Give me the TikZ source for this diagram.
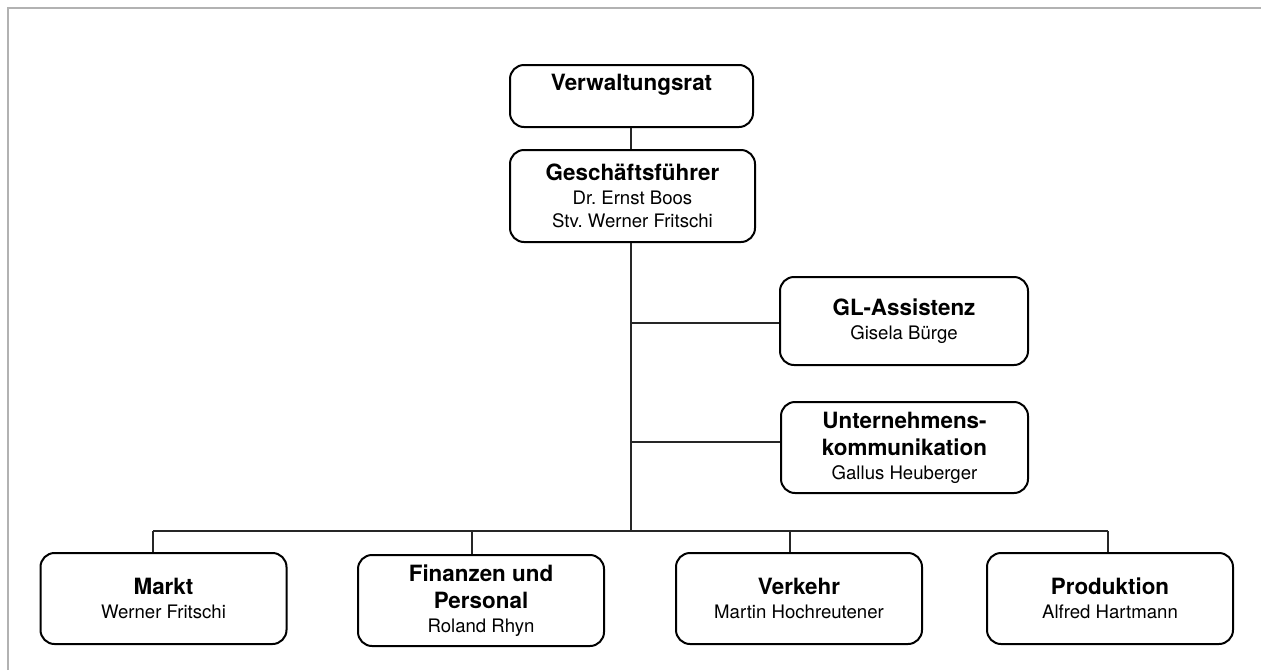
\documentclass[tikz,border=0pt]{standalone}
\usepackage{fontspec}
\setmainfont{TeX Gyre Heros}
\begin{document}
\frenchspacing
\newcommand\boxtitle[1]{{\fontsize{22.4}{23.5}\selectfont\bfseries #1}}
\begin{tikzpicture}[x=1pt,y=-1pt,
  box/.style={draw=black, line width=2pt, rounded corners=14pt,
    minimum width=246pt, minimum height=91pt, align=center, inner sep=0pt,
    font=\fontsize{18.6}{23.5}\selectfont},
  conn/.style={draw=black!85, line width=1.3pt},
  frame/.style={draw=black!30, line width=2.5pt}]
\useasboundingbox (0,0) rectangle (1261,670);
\draw[frame] (8.2,670) -- (8.2,8.2) -- (1261,8.2);

\node[box, minimum width=243pt, minimum height=62pt, text depth=28pt] (vr) at (631.5,96) {\boxtitle{Verwaltungsrat}};
\node[box, minimum width=245pt, minimum height=92pt] (gf) at (632.5,196) {\boxtitle{Geschäftsführer}\\Dr. Ernst Boos\\Stv. Werner Fritschi};
\node[box, minimum width=248pt, minimum height=88pt] (gl) at (904,321) {\boxtitle{GL-Assistenz}\\Gisela Bürge};
\node[box, minimum width=247pt] (uk) at (904.5,447.5) {\boxtitle{Unternehmens-}\\[4pt]\boxtitle{kommunikation}\\Gallus Heuberger};
\node[box] (markt) at (163.5,598.5) {\boxtitle{Markt}\\Werner Fritschi};
\node[box] (fin) at (481,600.5) {\boxtitle{Finanzen und}\\[4pt]\boxtitle{Personal}\\Roland Rhyn};
\node[box] (verk) at (799,598.5) {\boxtitle{Verkehr}\\Martin Hochreutener};
\node[box] (prod) at (1110,598.5) {\boxtitle{Produktion}\\Alfred Hartmann};

\coordinate (trunk) at (631,531);
\coordinate (busL) at (153,531);
\coordinate (d2) at (472,531);
\coordinate (d3) at (790,531);
\coordinate (busR) at (1108,531);
\coordinate (j1) at (631,323);
\coordinate (j2) at (631,442);

\draw[conn] (vr.south -| trunk) -- (gf.north -| trunk);
\draw[conn] (gf.south -| trunk) -- (trunk);
\draw[conn] (j1) -- (j1 -| gl.west);
\draw[conn] (j2) -- (j2 -| uk.west);
\draw[conn] (busL) -- (busR);
\draw[conn] (busL) -- (busL |- markt.north);
\draw[conn] (d2) -- (d2 |- fin.north);
\draw[conn] (d3) -- (d3 |- verk.north);
\draw[conn] (busR) -- (busR |- prod.north);
\end{tikzpicture}
\end{document}
